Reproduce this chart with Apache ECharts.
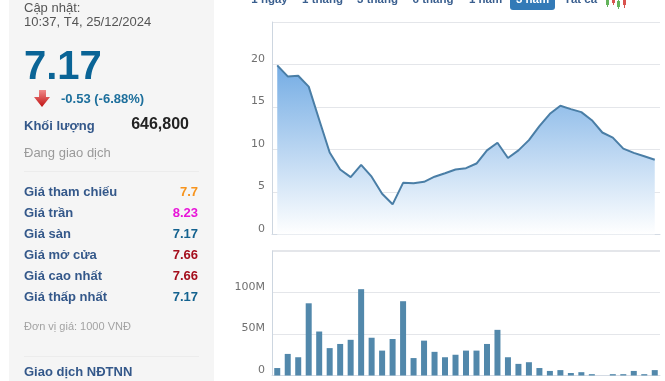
<!DOCTYPE html>
<html>
<head>
<meta charset="utf-8">
<style>
html, body { margin: 0; padding: 0; background: #fff; overflow: hidden; }
#main { width: 665px; height: 381px; }
</style>
<script src="https://cdn.jsdelivr.net/npm/echarts@6/dist/echarts.min.js"></script>
</head>
<body>
<div id="main"></div>
<script>
// gia dong cua va khoi luong, doc tu hinh
const priceValues = [19.9, 18.6, 18.67, 17.4, 13.5, 9.65, 7.65, 6.75, 8.2, 6.8, 4.8, 3.55, 6.08, 6.04, 6.2, 6.8, 7.2, 7.65, 7.8, 8.35, 9.9, 10.8, 9.0, 9.9, 11.1, 12.75, 14.2, 15.15, 14.75, 14.4, 13.45, 12.0, 11.4, 10.1, 9.6, 9.2, 8.8]
const volumeValues = [9, 26, 22, 87, 53, 33, 38, 43, 104, 45.5, 30, 44, 89.5, 21, 42, 28.5, 22, 25, 30, 30, 38, 55, 22, 14, 16, 9, 5.5, 6.5, 3, 4, 1.6, 0, 1.6, 1.6, 5.5, 1.6, 6.5]
const periods = priceValues.map(function (v, i) { return String(i + 1) })

const rangeTabs = ['1 ngày', '1 tháng', '3 tháng', '6 tháng', '1 năm', '3 năm', 'Tất cả']
const rangeTabX = [269.5, 322.5, 377.5, 433, 485.5, 532.5, 580.5]

const priceRows = ['Giá tham chiếu', 'Giá trần', 'Giá sàn', 'Giá mở cửa', 'Giá cao nhất', 'Giá thấp nhất']
const priceRowValues = ['7.7', '8.23', '7.17', '7.66', '7.66', '7.17']
const priceRowColors = ['#f7941d', '#e815d8', '#14628f', '#a50f1d', '#a50f1d', '#14628f']

const FONT = '"Liberation Sans", Arial, sans-serif'

function txt(x, y, text, size, color, weight, align) {
    return {
        type: 'text',
        x: x,
        y: y,
        silent: true,
        style: {
            text: text,
            fill: color,
            font: (weight || 'normal') + ' ' + size + 'px ' + FONT,
            align: align || 'left',
            verticalAlign: 'middle'
        }
    }
}

function hline(x1, x2, y, color) {
    return { type: 'rect', silent: true, shape: { x: x1, y: y, width: x2 - x1, height: 1 }, style: { fill: color } }
}

function candle(x, top, h, wickTop, wickH, color) {
    return [
        { type: 'rect', silent: true, z: 5, shape: { x: x + 1, y: wickTop, width: 1, height: wickH }, style: { fill: color } },
        { type: 'rect', silent: true, z: 5, shape: { x: x, y: top, width: 3, height: h }, style: { fill: color } }
    ]
}

let graphics = [
    { type: 'rect', silent: true, z: -1, shape: { x: 9, y: 0, width: 205, height: 381 }, style: { fill: '#f5f5f5' } },
    txt(24, 8, 'Cập nhật:', 13, '#555555'),
    txt(24, 22, '10:37, T4, 25/12/2024', 13, '#555555'),
    txt(24, 68, '7.17', 40, '#0a6496', 'bold'),
    {
        type: 'polygon',
        silent: true,
        shape: { points: [[39, 90], [46, 90], [46, 97], [50, 97], [42, 107], [34, 97], [39, 97]] },
        style: {
            fill: new echarts.graphic.LinearGradient(0, 0, 0, 1, [
                { offset: 0, color: '#f08a8a' },
                { offset: 1, color: '#c01010' }
            ])
        }
    },
    txt(61, 99, '-0.53 (-6.88%)', 13, '#1d6f9c', 'bold'),
    txt(24, 126, 'Khối lượng', 13, '#34588a', 'bold'),
    txt(189, 125, '646,800', 16, '#222222', 'bold', 'right'),
    txt(24, 153, 'Đang giao dịch', 13, '#9a9a9a'),
    hline(24, 199, 171, '#ececec'),
    txt(24, 327, 'Đơn vị giá: 1000 VNĐ', 11, '#a3a3a3'),
    hline(24, 199, 356, '#ececec'),
    txt(24, 372, 'Giao dịch NĐTNN', 13, '#34588a', 'bold'),
    // vien tren cua hai khung
    hline(272, 660, 22, '#e4e6ea'),
    hline(272, 660, 250, '#e4e6ea')
]

priceRows.forEach(function (name, i) {
    let y = 192 + i * 21
    graphics.push(txt(24, y, name, 13, '#34588a', 'bold'))
    graphics.push(txt(198, y, priceRowValues[i], 13, priceRowColors[i], 'bold', 'right'))
})

rangeTabs.forEach(function (name, i) {
    if (name === '3 năm') {
        graphics.push({
            type: 'rect',
            silent: true,
            shape: { x: 510, y: -8, width: 45, height: 18, r: [0, 0, 3, 3] },
            style: { fill: '#337ab7' }
        })
        graphics.push(txt(rangeTabX[i], 0, name, 11.5, '#ffffff', 'bold', 'center'))
    } else {
        graphics.push(txt(rangeTabX[i], 0, name, 11.5, '#3a5f8f', 'bold', 'center'))
    }
})

graphics = graphics.concat(
    candle(606, 0, 5, 0, 7, '#63b35a'),
    candle(612, 0, 3, 0, 5, '#d9534f'),
    candle(617, 1, 6, 0, 9, '#63b35a'),
    candle(623, 0, 5, 0, 8, '#d9534f')
)

let chart = echarts.init(document.querySelector('#main'))
window.onresize = function () {
    chart.resize()
}

let option = {
    animation: false,
    backgroundColor: '#ffffff',
    graphic: graphics,
    grid: [
        { left: 272, width: 388, top: 22, height: 212.5, show: false },
        { left: 272, width: 388, top: 251, height: 124.5, show: false }
    ],
    xAxis: [
        {
            type: 'category',
            gridIndex: 0,
            data: periods,
            boundaryGap: true,
            axisLine: { lineStyle: { color: '#d4dbe4' } },
            axisTick: { show: false },
            axisLabel: { show: false }
        },
        {
            type: 'category',
            gridIndex: 1,
            data: periods,
            boundaryGap: true,
            axisLine: { lineStyle: { color: '#d4dbe4' } },
            axisTick: {
                alignWithLabel: true,
                length: 6,
                lineStyle: { color: '#c5d1de' },
                interval: function (i) { return i % 6 === 1 }
            },
            axisLabel: { show: false }
        }
    ],
    yAxis: [
        {
            type: 'value',
            gridIndex: 0,
            min: 0,
            max: 25,
            interval: 5,
            axisLine: { show: true, lineStyle: { color: '#cdd6e0' } },
            axisTick: { show: false },
            splitLine: { lineStyle: { color: '#e4e6ea' } },
            axisLabel: {
                showMaxLabel: false,
                color: '#707070',
                fontFamily: 'DejaVu Sans',
                fontSize: 11,
                margin: 7,
                verticalAlign: 'bottom'
            }
        },
        {
            type: 'value',
            gridIndex: 1,
            min: 0,
            max: 150,
            interval: 50,
            axisLine: { show: true, lineStyle: { color: '#cdd6e0' } },
            axisTick: { show: false },
            splitLine: { lineStyle: { color: '#e4e6ea' } },
            axisLabel: {
                showMaxLabel: false,
                color: '#707070',
                fontFamily: 'DejaVu Sans',
                fontSize: 11,
                margin: 7,
                verticalAlign: 'bottom',
                formatter: function (v) { return v === 0 ? '0' : v + 'M' }
            }
        }
    ],
    series: [
        {
            type: 'line',
            xAxisIndex: 0,
            yAxisIndex: 0,
            data: priceValues,
            showSymbol: false,
            lineStyle: { color: '#4a7ea6', width: 2 },
            areaStyle: {
                opacity: 1,
                color: new echarts.graphic.LinearGradient(0, 0, 0, 1, [
                    { offset: 0, color: '#74ace4' },
                    { offset: 1, color: '#ffffff' }
                ])
            }
        },
        {
            type: 'bar',
            xAxisIndex: 1,
            yAxisIndex: 1,
            data: volumeValues,
            barWidth: 6,
            itemStyle: { color: '#5288ab' }
        }
    ]
}

chart.setOption(option)
</script>
</body>
</html>
